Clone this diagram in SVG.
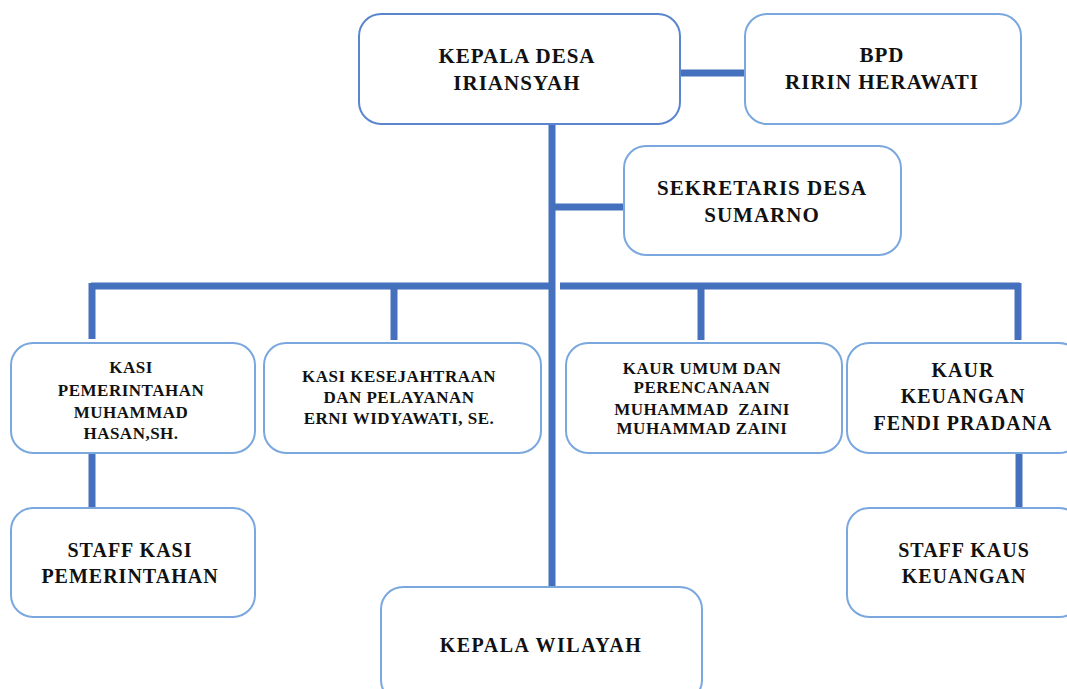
<svg xmlns="http://www.w3.org/2000/svg" width="1067" height="689" viewBox="0 0 1067 689">
<style>
.box{fill:#fff;stroke:#7aa8de;stroke-width:2}
.main{stroke:#5a86cf}
.con{stroke:#4570be;stroke-width:7;fill:none}
text{font-family:"Liberation Serif","Times New Roman",serif;font-weight:bold;fill:#111;text-anchor:middle}
.l{font-size:21px;letter-spacing:1px}
.m{font-size:20px;letter-spacing:1px}
.s{font-size:17px;letter-spacing:0.5px}
</style>
<rect width="1067" height="689" fill="#fff"/>
<g id="connectors">
<path class="con" d="M552 124V587"/>
<path class="con" d="M678 73H745"/>
<path class="con" d="M555 207H624"/>
<path class="con" d="M91 286H553"/>
<path class="con" d="M560 286H1020"/>
<path class="con" d="M92 283V339"/>
<path class="con" d="M394 283V340"/>
<path class="con" d="M701 283V340"/>
<path class="con" d="M1018 283V340"/>
<path class="con" d="M92 453V509"/>
<path class="con" d="M1019 453V509"/>
</g>
<g id="kepala-desa">
<rect class="box main" x="359" y="14" width="321" height="110" rx="22"/>
<text class="l" x="517" y="63">KEPALA DESA</text>
<text class="l" x="517" y="90">IRIANSYAH</text>
</g>
<g id="bpd">
<rect class="box" x="745" y="14" width="276" height="110" rx="22"/>
<text class="l" x="882" y="62">BPD</text>
<text class="l" x="882" y="89">RIRIN HERAWATI</text>
</g>
<g id="sekretaris">
<rect class="box" x="624" y="146" width="277" height="109" rx="22"/>
<text class="l" x="762" y="195">SEKRETARIS DESA</text>
<text class="l" x="762" y="222">SUMARNO</text>
</g>
<g id="kasi-pemerintahan">
<rect class="box" x="11" y="343" width="244" height="110" rx="22"/>
<text class="s" x="131" y="373">KASI</text>
<text class="s" x="131" y="396">PEMERINTAHAN</text>
<text class="s" x="131" y="418">MUHAMMAD</text>
<text class="s" x="131" y="439">HASAN,SH.</text>
</g>
<g id="kasi-kesejahtraan">
<rect class="box" x="264" y="343" width="277" height="110" rx="22"/>
<text class="s" x="399" y="382">KASI KESEJAHTRAAN</text>
<text class="s" x="399" y="403">DAN PELAYANAN</text>
<text class="s" x="399" y="424">ERNI WIDYAWATI, SE.</text>
</g>
<g id="kaur-umum">
<rect class="box" x="566" y="343" width="276" height="110" rx="22"/>
<text class="s" x="702" y="374">KAUR UMUM DAN</text>
<text class="s" x="702" y="393">PERENCANAAN</text>
<text class="s" x="702" y="415" xml:space="preserve">MUHAMMAD  ZAINI</text>
<text class="s" x="702" y="434">MUHAMMAD ZAINI</text>
</g>
<g id="kaur-keuangan">
<rect class="box" x="847" y="343" width="234" height="110" rx="22"/>
<text class="m" x="963" y="377">KAUR</text>
<text class="m" x="963" y="403">KEUANGAN</text>
<text class="m" x="963" y="430">FENDI PRADANA</text>
</g>
<g id="staff-kasi">
<rect class="box" x="11" y="508" width="244" height="109" rx="22"/>
<text class="m" x="130" y="557">STAFF KASI</text>
<text class="m" x="130" y="583">PEMERINTAHAN</text>
</g>
<g id="staff-kaus">
<rect class="box" x="847" y="508" width="234" height="109" rx="22"/>
<text class="m" x="964" y="557">STAFF KAUS</text>
<text class="m" x="964" y="583">KEUANGAN</text>
</g>
<g id="kepala-wilayah">
<rect class="box" x="381" y="587" width="321" height="115" rx="22"/>
<text class="m" x="541" y="652" style="letter-spacing:1.5px">KEPALA WILAYAH</text>
</g>
</svg>
